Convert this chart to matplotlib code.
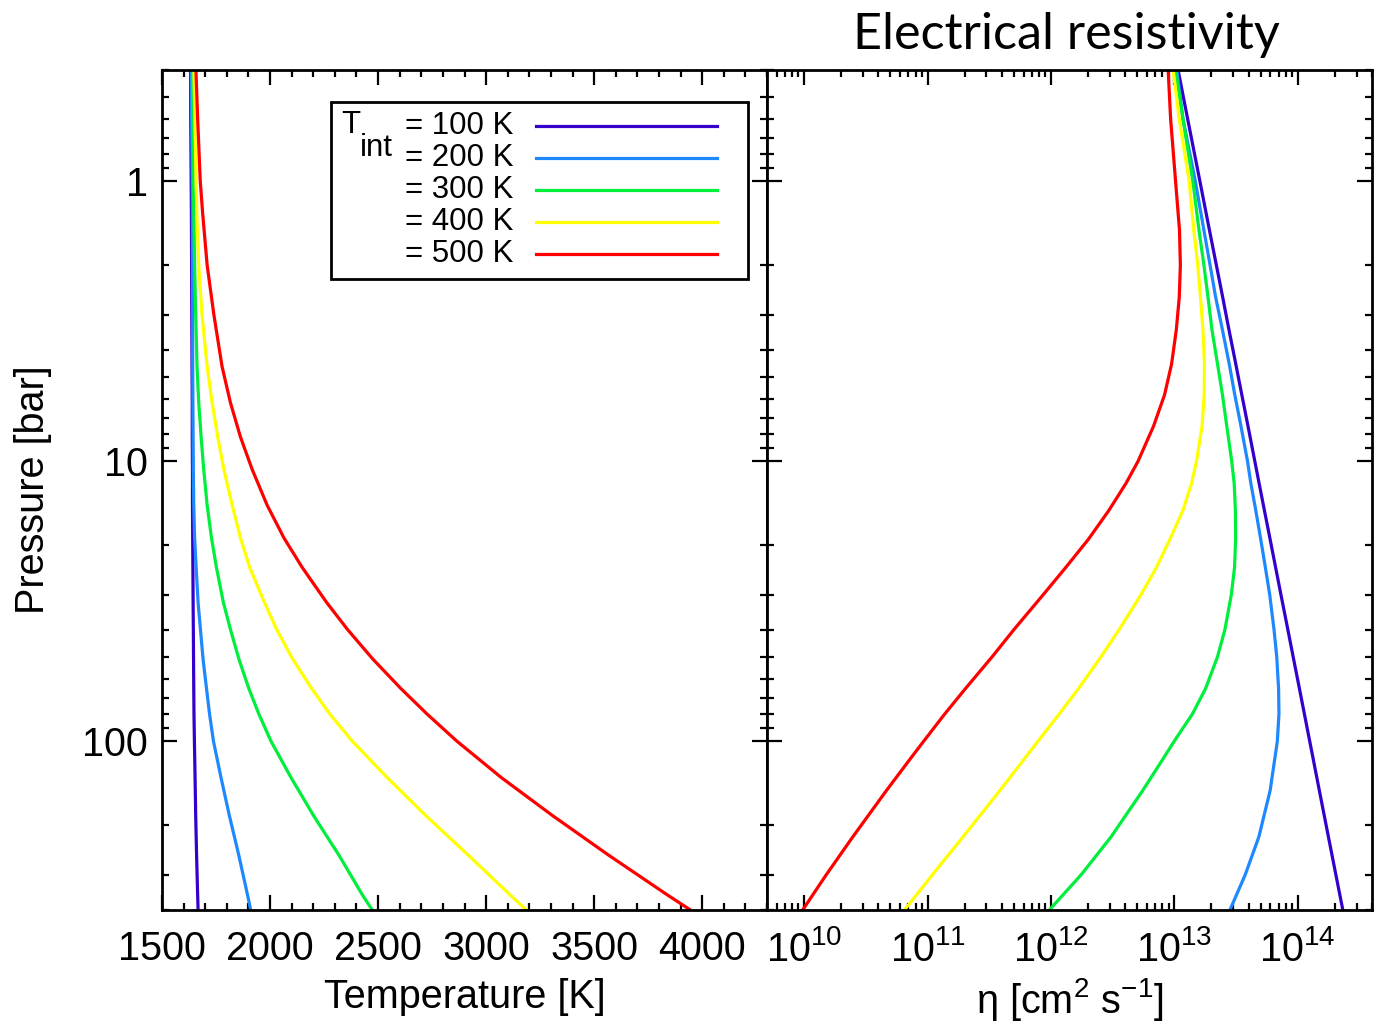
import matplotlib
matplotlib.use("Agg")
import matplotlib.pyplot as plt
from matplotlib.ticker import MultipleLocator, LogLocator, NullFormatter, FuncFormatter, LogFormatterMathtext
from matplotlib.patches import Rectangle

plt.rcParams['font.family'] = ['Liberation Sans', 'DejaVu Sans']
plt.rcParams['mathtext.fontset'] = 'custom'
plt.rcParams['mathtext.rm'] = 'Liberation Sans'
plt.rcParams['mathtext.it'] = 'Liberation Sans'
plt.rcParams['mathtext.default'] = 'regular'

# internal temperatures and line colours
t_int = [100, 200, 300, 400, 500]
colors = ['#3300cc', '#1e88ff', '#00ee3c', '#ffff00', '#ff0000']

# left panel: temperature profiles [K] vs pressure [bar]
p_temp = [0.4, 0.6, 1, 1.3, 2, 3, 4.6, 6.2, 8.2, 10.7, 14.4, 18.8, 24, 32, 40, 51, 65, 80,
          100, 135, 185, 255, 355, 400]
temp_100 = [1632, 1633, 1635, 1636, 1637, 1638, 1639, 1640, 1640, 1641, 1641, 1642, 1643, 1644,
            1645, 1646, 1647, 1648, 1650, 1653, 1656, 1660, 1665, 1667]
temp_200 = [1635, 1637, 1640, 1641, 1641, 1642, 1642, 1643, 1644, 1645, 1647, 1651, 1658, 1667,
            1678, 1690, 1706, 1720, 1738, 1773, 1812, 1855, 1896, 1910]
temp_300 = [1641, 1642, 1644, 1647, 1651, 1656, 1662, 1670, 1681, 1693, 1709, 1729, 1752, 1784,
            1817, 1856, 1902, 1948, 2004, 2097, 2202, 2318, 2428, 2472]
temp_400 = [1648, 1652, 1658, 1661, 1670, 1685, 1709, 1732, 1758, 1786, 1825, 1863, 1906, 1974,
            2031, 2105, 2193, 2276, 2380, 2542, 2722, 2916, 3112, 3184]
temp_500 = [1657, 1665, 1677, 1688, 1709, 1740, 1778, 1817, 1863, 1917, 1987, 2064, 2149, 2262,
            2359, 2476, 2606, 2726, 2864, 3070, 3309, 3565, 3840, 3943]

# right panel: log10 of electrical resistivity [cm^2 s^-1] vs pressure [bar]
p_eta = [0.4, 0.6, 1, 1.5, 2, 2.6, 3.4, 4.5, 5.8, 7.5, 10, 12, 15, 19, 24, 30, 40, 50, 65, 80,
         100, 115, 150, 220, 300, 400]
log_eta_100 = [13.03, 13.108, 13.207, 13.285, 13.341, 13.392, 13.443, 13.498, 13.547, 13.597,
               13.652, 13.687, 13.73, 13.776, 13.821, 13.864, 13.92, 13.963, 14.014, 14.054,
               14.097, 14.124, 14.175, 14.249, 14.309, 14.365]
log_eta_200 = [13.02, 13.07, 13.17, 13.24, 13.29, 13.335, 13.39, 13.445, 13.49, 13.54,
               13.593, 13.62, 13.66, 13.70, 13.738, 13.773, 13.808, 13.83, 13.845, 13.848,
               13.835, 13.815, 13.777, 13.685, 13.575, 13.452]
log_eta_300 = [13.01, 13.07, 13.15, 13.2, 13.24, 13.273, 13.305, 13.35, 13.39, 13.425,
               13.465, 13.485, 13.495, 13.497, 13.488, 13.462, 13.41, 13.35, 13.253, 13.147,
               13.0, 12.913, 12.745, 12.487, 12.246, 11.99]
log_eta_400 = [12.99, 13.04, 13.12, 13.158, 13.19, 13.212, 13.232, 13.244, 13.242, 13.225,
               13.18, 13.14, 13.07, 12.965, 12.855, 12.73, 12.553, 12.406, 12.223, 12.068,
               11.896, 11.79, 11.587, 11.287, 11.04, 10.816]
log_eta_500 = [12.95, 12.97, 13.01, 13.042, 13.049, 13.04, 13.016, 12.978, 12.921, 12.832,
               12.707, 12.609, 12.47, 12.305, 12.12, 11.938, 11.70, 11.524, 11.307, 11.14,
               10.97, 10.865, 10.668, 10.394, 10.18, 9.99]

temps = [temp_100, temp_200, temp_300, temp_400, temp_500]
etas = [log_eta_100, log_eta_200, log_eta_300, log_eta_400, log_eta_500]

W, H = 1374, 1024
fig = plt.figure(figsize=(W / 100, H / 100), dpi=100)
bottom = 1 - 909.6 / H
height = 840 / H
ax1 = fig.add_axes([162 / W, bottom, 605 / W, height])
ax2 = fig.add_axes([767 / W, bottom, 605 / W, height], sharey=ax1)

lw = 2.3
for i in range(len(t_int)):
    ax1.plot(temps[i], p_temp, color=colors[i], lw=lw)
    ax2.plot([10 ** v for v in etas[i]], p_eta, color=colors[i], lw=lw)

ax1.set_yscale('log')
ax1.set_ylim(400, 0.4)
ax1.set_xlim(1500, 4300)
ax2.set_xscale('log')
ax2.set_xlim(5e9, 4e14)

fs = 28.5
for ax in (ax1, ax2):
    for s in ax.spines.values():
        s.set_linewidth(2.0)
    ax.tick_params(which='both', direction='in', top=True, right=True, width=1.6)
    ax.tick_params(which='major', length=11, labelsize=fs)
    ax.tick_params(which='minor', length=5)
    ax.tick_params(axis='x', which='major', pad=15)

ax1.yaxis.set_major_locator(LogLocator(base=10, subs=[1.0]))
ax1.yaxis.set_minor_locator(LogLocator(base=10, subs=range(2, 10)))
ax1.yaxis.set_major_formatter(FuncFormatter(lambda v, pos: '%g' % v))
ax1.yaxis.set_minor_formatter(NullFormatter())
ax1.tick_params(axis='y', which='major', pad=10)

ax1.xaxis.set_major_locator(MultipleLocator(500))
ax1.xaxis.set_minor_locator(MultipleLocator(100))

ax2.xaxis.set_major_locator(LogLocator(base=10, subs=[1.0]))
ax2.xaxis.set_minor_locator(LogLocator(base=10, subs=range(2, 10), numticks=20))
ax2.xaxis.set_major_formatter(LogFormatterMathtext())
ax2.xaxis.set_minor_formatter(NullFormatter())
ax2.tick_params(axis='y', labelleft=False)

ax1.set_xlabel('Temperature [K]', fontsize=fs, labelpad=7)
ax1.set_ylabel('Pressure [bar]', fontsize=fs, labelpad=22)
ax2.set_xlabel('η [cm$^2$ s$^{-1}$]', fontsize=fs, labelpad=5)

# legend box drawn in axes coordinates
ax1.add_patch(Rectangle((0.279, 0.7507), 0.9686 - 0.279, 0.9618 - 0.7507, transform=ax1.transAxes,
                        fill=False, edgecolor='black', lw=2.0, zorder=5))
row_y = [0.9333, 0.8948, 0.8567, 0.8186, 0.7805]
for i in range(len(t_int)):
    ax1.plot([0.618, 0.917], [row_y[i], row_y[i]], color=colors[i], lw=lw, transform=ax1.transAxes)
    ax1.text(0.5807, row_y[i], '= %d K' % t_int[i], transform=ax1.transAxes, ha='right', va='center',
             fontsize=22.5)
ax1.text(0.2967, 0.9242, 'T', transform=ax1.transAxes, ha='left', va='baseline', fontsize=22.5)
ax1.text(0.3273, 0.8977, 'int', transform=ax1.transAxes, ha='left', va='baseline', fontsize=22.5)

fig.text(1066 / W, 1 - 35 / H, 'Electrical resistivity', fontfamily='Lato', fontsize=36.2,
         ha='center', va='center')

fig.savefig('out.png', dpi=100)
plt.close(fig)
